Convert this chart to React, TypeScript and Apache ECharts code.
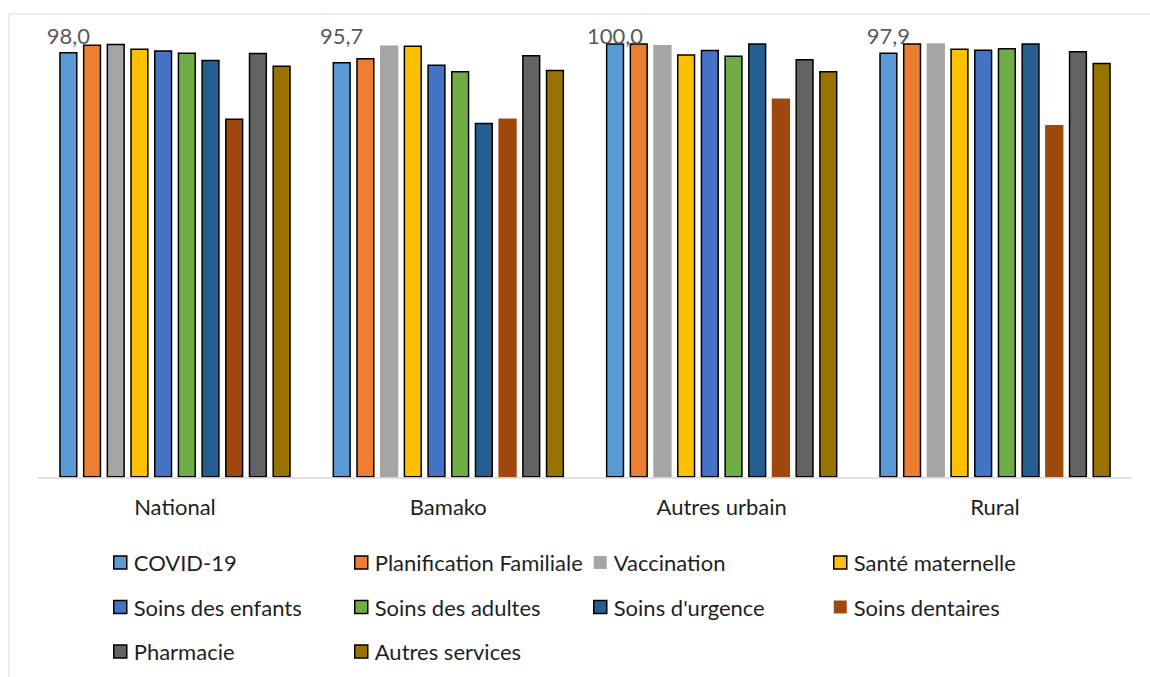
import React, { useEffect, useRef } from "react";
import * as echarts from "echarts";

const CATEGORIES = ["National", "Bamako", "Autres urbain", "Rural"];

const SERIES_NAMES = [
  "COVID-19",
  "Planification Familiale",
  "Vaccination",
  "Santé maternelle",
  "Soins des enfants",
  "Soins des adultes",
  "Soins d'urgence",
  "Soins dentaires",
  "Pharmacie",
  "Autres services",
];

const COVID = [98.0, 95.7, 100.0, 97.9];
const PLANIFICATION = [99.7, 96.6, 100.0, 100.0];
const VACCINATION = [99.9, 99.5, 99.6, 100.0];
const SANTE_MATERNELLE = [98.8, 99.5, 97.5, 98.8];
const SOINS_ENFANTS = [98.4, 95.1, 98.5, 98.6];
const SOINS_ADULTES = [97.9, 93.6, 97.2, 98.9];
const SOINS_URGENCE = [96.2, 81.7, 100.0, 100.0];
const SOINS_DENTAIRES = [82.7, 82.7, 87.3, 81.2];
const PHARMACIE = [97.8, 97.3, 96.4, 98.2];
const AUTRES_SERVICES = [94.9, 93.9, 93.6, 95.5];

const SERIES_VALUES = [
  COVID,
  PLANIFICATION,
  VACCINATION,
  SANTE_MATERNELLE,
  SOINS_ENFANTS,
  SOINS_ADULTES,
  SOINS_URGENCE,
  SOINS_DENTAIRES,
  PHARMACIE,
  AUTRES_SERVICES,
];

const COLORS = [
  "#5B9BD5",
  "#ED7D31",
  "#A5A5A5",
  "#FFC000",
  "#4472C4",
  "#70AD47",
  "#255E91",
  "#9E480E",
  "#636363",
  "#997300",
];

// series without outline (except on the listed categories)
const UNOUTLINED_SERIES = ["Vaccination", "Soins dentaires"];
const OUTLINED_EXCEPTIONS = ["National"];

// legend columns
const LEGEND_COLUMNS = [
  ["COVID-19", "Soins des enfants", "Pharmacie"],
  ["Planification Familiale", "Soins des adultes", "Autres services"],
  ["Vaccination", "Soins d'urgence"],
  ["Santé maternelle", "Soins dentaires"],
];
const LEGEND_LEFTS = [113, 354, 593, 833];

const FONT = "Lato";
const BORDER = { borderColor: "#000", borderWidth: 1.5 };
const NO_BORDER = { borderColor: "transparent", borderWidth: 0 };

function fmt(v: number) {
  return v.toFixed(1).replace(".", ",");
}

function buildOption(labelOffsets: number[] | null) {
  const series = SERIES_NAMES.map((name, si) => {
    const unoutlined = UNOUTLINED_SERIES.includes(name);
    return {
      id: "s" + si,
      name,
      type: "bar",
      barGap: "29.5%",
      barCategoryGap: "15.3%",
      itemStyle: { color: COLORS[si], ...(unoutlined ? NO_BORDER : BORDER) },
      data: SERIES_VALUES[si].map((v, ci) => {
        const item: any = { value: v };
        if (unoutlined && OUTLINED_EXCEPTIONS.includes(CATEGORIES[ci])) {
          item.itemStyle = { ...BORDER };
        }
        if (si === 0) {
          const off = labelOffsets ? labelOffsets[ci] : 0;
          item.label = {
            show: true,
            position: "top",
            distance: 0,
            offset: [0, -off + 3],
            formatter: (p: any) => fmt(p.value),
            color: "#595959",
            fontSize: 22,
            fontFamily: FONT,
          };
        }
        return item;
      }),
    };
  });

  const legends = LEGEND_COLUMNS.map((col, i) => ({
    show: true,
    orient: "vertical",
    left: LEGEND_LEFTS[i],
    top: 550.5,
    padding: 0,
    itemGap: 20.5,
    itemWidth: 13,
    itemHeight: 13,
    icon: "rect",
    selectedMode: false,
    textStyle: {
      fontFamily: FONT,
      fontSize: 22,
      color: "#1f1f1f",
      lineHeight: 24,
      padding: [0, 0, 0, 2],
    },
    data: col.map((name) => ({
      name,
      itemStyle: UNOUTLINED_SERIES.includes(name) ? { ...NO_BORDER } : { ...BORDER },
    })),
  }));

  return {
    animation: false,
    backgroundColor: "#ffffff",
    grid: { left: 38.3, right: 18.3, top: 43.3, bottom: 199.5, containLabel: false },
    xAxis: {
      type: "category",
      data: CATEGORIES,
      z: 10,
      axisTick: { show: false },
      axisLine: { show: true, lineStyle: { color: "#D9D9D9", width: 1.5 } },
      axisLabel: {
        fontFamily: FONT,
        fontSize: 22,
        color: "#1f1f1f",
        margin: 18,
      },
    },
    yAxis: {
      type: "value",
      min: 0,
      max: 100,
      show: false,
      splitLine: { show: false },
    },
    legend: legends,
    graphic: [
      {
        type: "rect",
        shape: { x: 9, y: 14, width: 1300, height: 800 },
        style: { fill: "none", stroke: "#D9D9D9", lineWidth: 1 },
        silent: true,
        z: -1,
      },
    ],
    series,
  };
}

export default function App() {
  const ref = useRef<HTMLDivElement>(null);
  useEffect(() => {
    if (!ref.current) return;
    const chart = echarts.init(ref.current, null, { renderer: "svg" });
    chart.setOption(buildOption(null) as any);
    const base = chart.convertToPixel({ yAxisIndex: 0 } as any, 100) as unknown as number;
    const offsets = COVID.map(
      (v) => (chart.convertToPixel({ yAxisIndex: 0 } as any, v) as unknown as number) - base
    );
    chart.setOption(buildOption(offsets) as any, true);
    return () => chart.dispose();
  }, []);
  return (
    <div
      ref={ref}
      style={{ position: "fixed", left: 0, top: 0, width: 1150, height: 677 }}
    />
  );
}
